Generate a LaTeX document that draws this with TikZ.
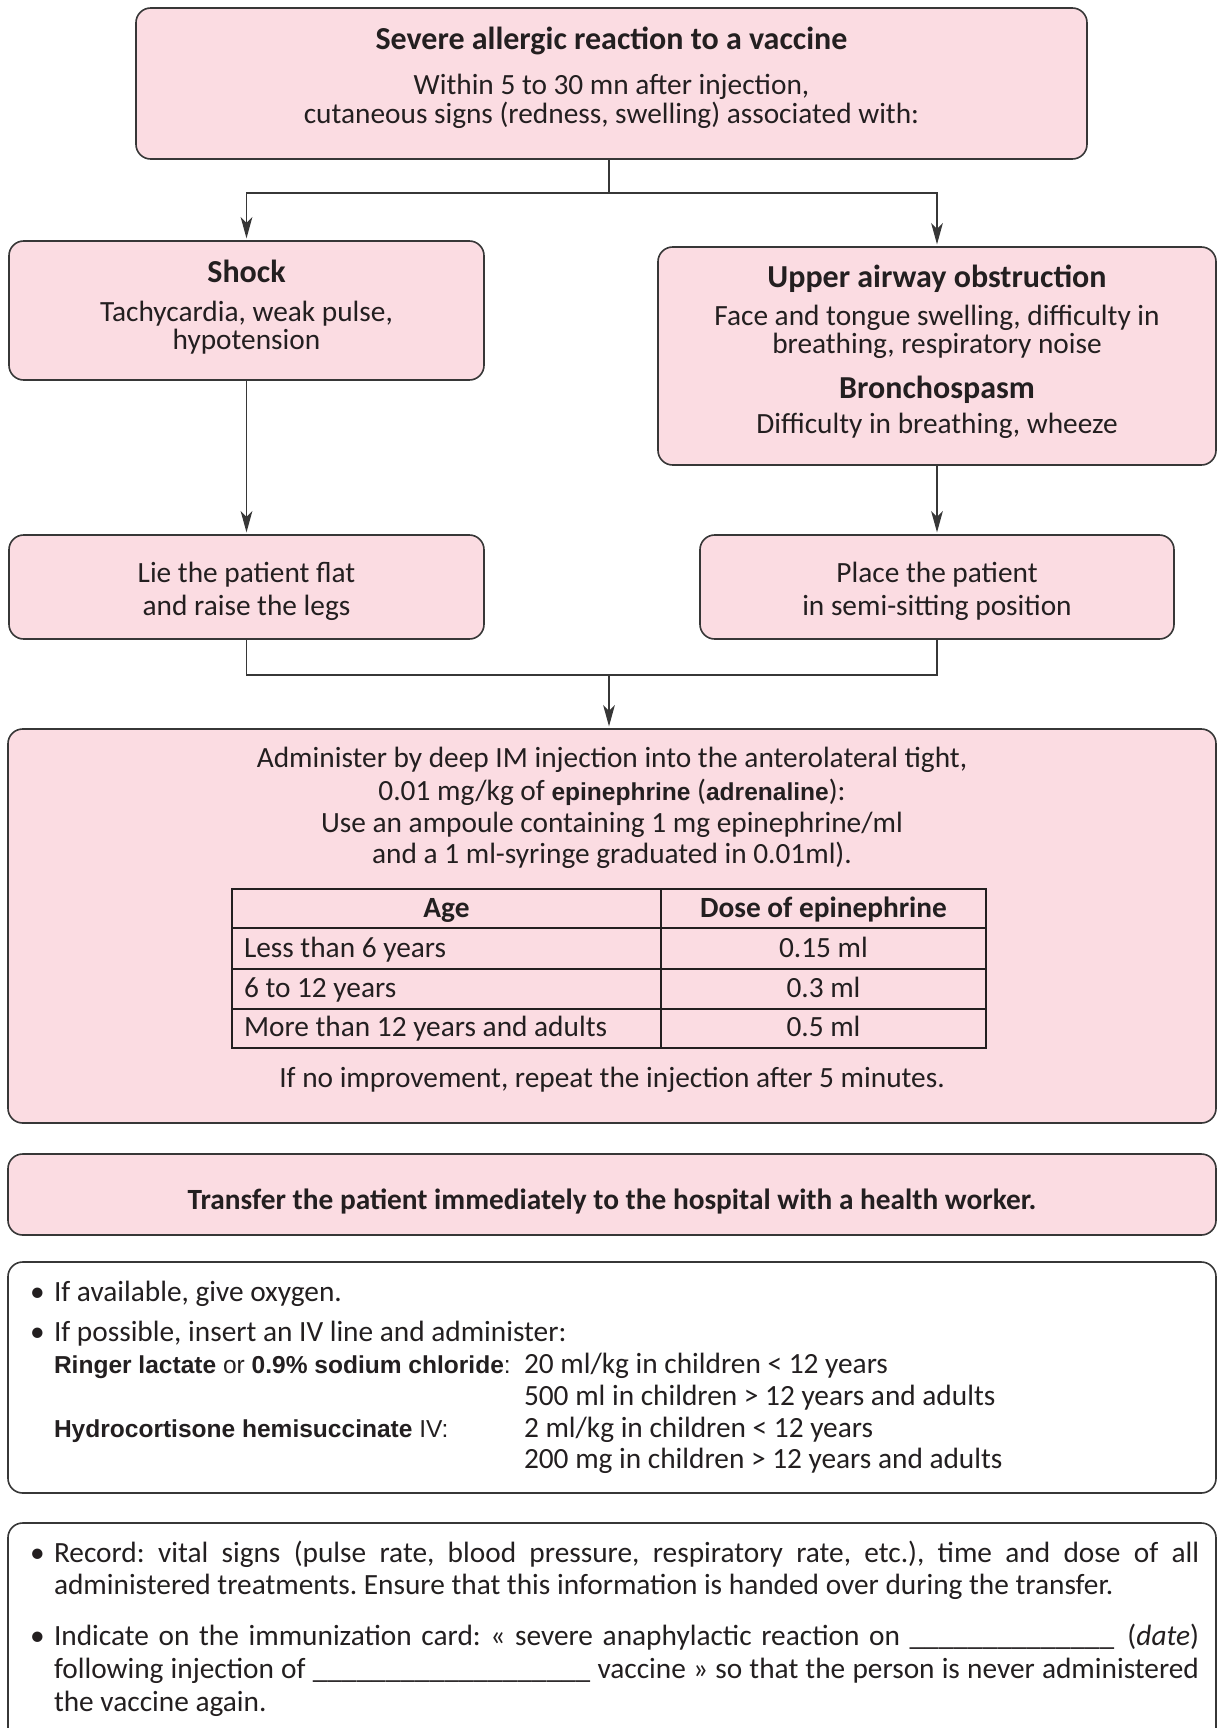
\documentclass[tikz,border=0pt]{standalone}
\usepackage{fontspec}
\setmainfont{Carlito}
\newfontfamily\arialfam{Liberation Sans}
\usetikzlibrary{fit,arrows.meta}
\definecolor{pinkc}{RGB}{251,220,226}
\definecolor{linec}{RGB}{55,55,55}
\definecolor{textc}{RGB}{35,31,32}
\newcommand\ab[1]{{\arialfam\fontsize{9.2}{11}\selectfont\bfseries #1}}
\newcommand\arsm{\arialfam\fontsize{9.2}{11}\selectfont}
\newcommand\jline[1]{\makebox[429.4pt][s]{#1}}
\frenchspacing
\begin{document}
\begin{tikzpicture}[x=0.375pt,y=-0.375pt,
  box/.style={draw=linec, line width=0.6pt, rounded corners=5.5pt, fill=pinkc, inner sep=0pt, outer sep=0pt},
  wbox/.style={box, fill=white},
  txc/.style={anchor=base, inner sep=0pt, outer sep=0pt, text=textc, font=\fontsize{11}{13}\selectfont},
  ttl/.style={txc, font=\fontsize{12}{14}\selectfont\bfseries},
  txb/.style={txc, font=\fontsize{11}{13}\selectfont\bfseries},
  txl/.style={txc, anchor=base west},
  conn/.style={draw=linec, line width=0.45pt},
  arr/.style={conn, -{Stealth[length=8pt,width=4.4pt,inset=2.2pt]}, shorten >=1pt},
  tbl/.style={draw=textc, line width=0.5pt}]
\clip (0,0) rectangle (1217,1728);
\fill[white] (0,0) rectangle (1217,1728);

% boxes
\node[box, fit={(136,8) (1087,159)}] (top) {};
\node[box, fit={(9,241) (484,380)}] (shock) {};
\node[box, fit={(658,247) (1216,465)}] (upper) {};
\node[box, fit={(9,535) (484,639)}] (lie) {};
\node[box, fit={(700,535) (1174,639)}] (place) {};
\node[box, fit={(8,729) (1216,1123)}] (admin) {};
\node[box, fit={(8,1154) (1216,1235)}] (transfer) {};
\node[wbox, fit={(8,1262) (1216,1493)}] (oxy) {};
\node[wbox, fit={(8,1523) (1216,1770)}] (record) {};

% connectors
\coordinate (j1) at (609,193);
\coordinate (j2) at (609,675);
\draw[conn] (top.south -| j1) -- (j1);
\draw[arr] (j1) -| (shock.north);
\draw[arr] (j1) -| (upper.north);
\draw[arr] (shock.south) -- (lie.north);
\draw[arr] (upper.south) -- (place.north);
\draw[conn] (lie.south) |- (j2) -| (place.south);
\draw[arr] (j2) -- (admin.north -| j2);

% top box text
\node[ttl] (t1) at (611.5,49) {Severe allergic reaction to a vaccine};
\node[txc] (t2) at (611.5,94) {Within 5 to 30 mn after injection,};
\node[txc] (t3) at (611.5,123) {cutaneous signs (redness, swelling) associated with:};

% shock
\node[ttl] (s1) at (246.5,282) {Shock};
\node[txc] (s2) at (246.5,321) {Tachycardia, weak pulse,};
\node[txc] (s3) at (246.5,349) {hypotension};

% upper airway
\node[ttl] (u1) at (937,287) {Upper airway obstruction};
\node[txc] (u2) at (937,325) {Face and tongue swelling, difficulty in};
\node[txc] (u3) at (937,353) {breathing, respiratory noise};
\node[ttl] (u4) at (937,398) {Bronchospasm};
\node[txc] (u5) at (937,433) {Difficulty in breathing, wheeze};

% lie / place
\node[txc] (l1) at (246.5,582) {Lie the patient flat};
\node[txc] (l2) at (246.5,615) {and raise the legs};
\node[txc] (p1) at (937,582) {Place the patient};
\node[txc] (p2) at (937,615) {in semi-sitting position};

% admin
\node[txc] (a1) at (612,767) {Administer by deep IM injection into the anterolateral tight,};
\node[txc] (a2) at (612,800) {0.01 mg/kg of \ab{epinephrine} (\ab{adrenaline}):};
\node[txc] (a3) at (612,832) {Use an ampoule containing 1 mg epinephrine/ml};
\node[txc] (a4) at (612,863) {and a 1 ml-syringe graduated in 0.01ml).};

% table
\draw[tbl] (232,889) rectangle (986,1048);
\draw[tbl] (232,928) -- (986,928);
\draw[tbl] (232,969) -- (986,969);
\draw[tbl] (232,1009) -- (986,1009);
\draw[tbl] (661,889) -- (661,1048);
\node[txb] (h1) at (446.5,917) {Age};
\node[txb] (h2) at (823.5,917) {Dose of epinephrine};
\node[txl] (c11) at (244,957) {Less than 6 years};
\node[txl] (c21) at (244,997) {6 to 12 years};
\node[txl] (c31) at (244,1036) {More than 12 years and adults};
\node[txc] (c12) at (823.5,957) {0.15 ml};
\node[txc] (c22) at (823.5,997) {0.3 ml};
\node[txc] (c32) at (823.5,1036) {0.5 ml};
\node[txc] (a5) at (612,1087) {If no improvement, repeat the injection after 5 minutes.};

% transfer
\node[txb] (tr) at (612,1209) {Transfer the patient immediately to the hospital with a health worker.};

% oxygen box
\node[txl] (ob1) at (30,1301) {•};
\node[txl] (o1) at (54,1301) {If available, give oxygen.};
\node[txl] (ob2) at (30,1341) {•};
\node[txl] (o2) at (54,1341) {If possible, insert an IV line and administer:};
\node[txl] (o3) at (54,1373) {{\arsm\textbf{Ringer lactate} or \textbf{0.9\% sodium chloride}:}};
\node[txl] (o4) at (524,1373) {20 ml/kg in children < 12 years};
\node[txl] (o5) at (524,1405) {500 ml in children > 12 years and adults};
\node[txl] (o6) at (54,1437) {{\arsm\textbf{Hydrocortisone hemisuccinate} IV:}};
\node[txl] (o7) at (524,1437) {2 ml/kg in children < 12 years};
\node[txl] (o8) at (524,1468) {200 mg in children > 12 years and adults};

% record box
\node[txl] (rb1) at (30,1562) {•};
\node[txl] (r1) at (54,1562) {\jline{Record: vital signs (pulse rate, blood pressure, respiratory rate, etc.), time and dose of all}};
\node[txl] (r2) at (54,1594) {administered treatments. Ensure that this information is handed over during the transfer.};
\node[txl] (rb2) at (30,1645) {•};
\node[txl] (r3) at (54,1645) {\jline{Indicate on the immunization card: « severe anaphylactic reaction on \_\_\_\_\_\_\_\_\_\_\_\_\_\_\kern5pt(\textit{date})}};
\node[txl] (r4) at (54,1678) {\jline{following injection of \_\_\_\_\_\_\_\_\_\_\_\_\_\_\_\_\_\_\_\ vaccine » so that the person is never administered}};
\node[txl] (r5) at (54,1711) {the vaccine again.};
\end{tikzpicture}
\end{document}
